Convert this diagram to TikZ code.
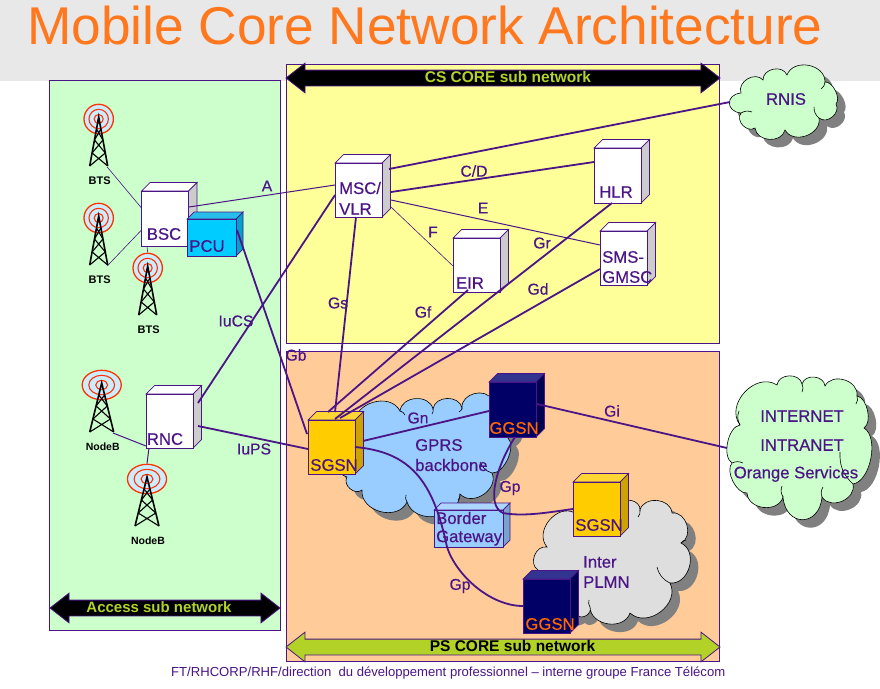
\documentclass[tikz,border=0pt]{standalone}
\usepackage{fontspec}
\setmainfont{Liberation Sans}
\newfontfamily\heavyface[FakeBold=0.4]{Liberation Sans}
\usepackage{xcolor}
\usepackage{tikz}
\usetikzlibrary{shapes.arrows, calc, shadows}
\definecolor{linkpurple}{RGB}{75, 20, 135}
\definecolor{titleorange}{RGB}{255, 120, 30}
\definecolor{bandgray}{RGB}{232, 232, 232}
\definecolor{accessgreen}{RGB}{204, 255, 204}
\definecolor{csyellow}{RGB}{255, 255, 153}
\definecolor{psorange}{RGB}{255, 204, 153}
\definecolor{limegreen}{RGB}{178, 210, 40}
\definecolor{plainfront}{RGB}{255, 255, 255}
\definecolor{plaintop}{RGB}{255, 255, 255}
\definecolor{plainside}{RGB}{204, 204, 204}
\definecolor{pcufront}{RGB}{0, 204, 255}
\definecolor{pcutop}{RGB}{40, 190, 235}
\definecolor{pcuside}{RGB}{0, 163, 204}
\definecolor{sgsnfront}{RGB}{255, 204, 0}
\definecolor{sgsntop}{RGB}{255, 214, 51}
\definecolor{sgsnside}{RGB}{204, 163, 0}
\definecolor{ggsnfront}{RGB}{0, 0, 102}
\definecolor{ggsntop}{RGB}{51, 51, 144}
\definecolor{ggsnside}{RGB}{0, 0, 82}
\definecolor{gatefront}{RGB}{153, 204, 255}
\definecolor{gatetop}{RGB}{173, 214, 255}
\definecolor{gateside}{RGB}{122, 163, 204}
\definecolor{ringred}{RGB}{255, 51, 0}
\definecolor{ringblue}{RGB}{204, 236, 255}
\definecolor{ggsnorange}{RGB}{255, 102, 0}
\tikzset{
  unitlabel/.style={text=linkpurple, font=\fontsize{16.7}{18}\heavyface, inner sep=0pt},
  linklabel/.style={text=linkpurple, font=\fontsize{15.7}{17}\heavyface, inner sep=0pt},
  thinlink/.style={draw=linkpurple, line width=0.6pt},
  midlink/.style={draw=linkpurple, line width=1pt},
  thicklink/.style={draw=linkpurple, line width=1.8pt},
  puff/.style={bend left=80, looseness=1.2},
  smallpuff/.style={bend left=70, looseness=0.8},
  bigpuff/.style={bend left=85, looseness=2},
  cloudshape/.style={draw=black, line width=0.6pt,
    drop shadow={shadow xshift=8pt, shadow yshift=-8pt, fill=black!50, opacity=1}},
  subnetarrow/.style={double arrow, draw=linkpurple, line width=0.8pt,
    double arrow head extend=7pt, double arrow tip angle=76,
    inner xsep=0pt, inner ysep=0pt, text height=11.5pt, text depth=3.5pt,
    font=\fontsize{15.5}{17}\selectfont\bfseries}
}
% box in three parts, front face is the node
\newcommand{\unitbox}[7]{
  \fill[#7top, draw=linkpurple, line width=0.7pt] (#2-#4/2,#3-#5/2) -- ++(#6,-#6) -- ++(#4,0) -- ++(-#6,#6) -- cycle;
  \fill[#7side, draw=linkpurple, line width=0.7pt] (#2+#4/2,#3-#5/2) -- ++(#6,-#6) -- ++(0,#5) -- ++(-#6,#6) -- cycle;
  \node[fill=#7front, draw=linkpurple, line width=0.8pt, minimum width=#4pt, minimum height=#5pt, inner sep=0pt] (#1) at (#2,#3) {};
}
% radio tower, #4 widens it
\newcommand{\radiotower}[6]{
  \begin{scope}[shift={(#2,#3)}, xscale=#4]
    \draw[ringred, line width=1.3pt, fill=ringblue] (0,0) circle (14.7);
    \draw[ringred, line width=1.1pt] (0,0) circle (9.7);
    \draw[ringred, line width=1.1pt] (0,0) circle (4.5);
    \draw[black, line width=1.6pt] (-9,47) -- (0,-2) -- (9,47);
    \foreach \a/\b/\c/\d in {2.2/10/4.2/21, 4.2/21/6.6/34, 6.6/34/9/47}
      \draw[black, line width=1.1pt] (-\a,\b) -- (\c,\d) (\a,\b) -- (-\c,\d);
    \coordinate (#1foot) at (8.5,48);
    \coordinate (#1head) at (0,-15.5);
  \end{scope}
  \node[font=\fontsize{#6}{12}\selectfont\bfseries, inner sep=0pt] (#1) at (#2+1,#3+62) {#5};
}

\begin{document}
\begin{tikzpicture}[x=1pt, y=-1pt]
  \useasboundingbox (0,0) rectangle (880,688);
  \fill[white] (0,0) rectangle (880,688);
  \fill[bandgray] (0,0) rectangle (880,81);
  \node[text=titleorange, font=\fontsize{53.2}{60}\selectfont, inner sep=0pt] (title) at (425,25.5) {Mobile Core Network Architecture};

  % panels
  \draw[linkpurple, line width=0.8pt, fill=accessgreen] (49.5,80) rectangle (280,630);
  \draw[linkpurple, line width=0.8pt, fill=csyellow] (286,64) rectangle (719.5,343.5);
  \draw[linkpurple, line width=0.8pt, fill=psorange] (286,351) rectangle (719.5,661);

  % clouds
  \path[cloudshape, fill=accessgreen] (741,93) to[puff] (763,80) to[puff] (787,75) to[puff] (825,82) to[smallpuff] (836,104)
    to[puff] (819,118) to[puff] (785,130) to[puff] (755,128) to[puff] (741,113) to[bigpuff] cycle;
  \path[cloudshape, fill=accessgreen] (740,425) to[puff] (777,385) to[puff] (802,384) to[puff] (825,386) to[puff] (857,396)
    to[smallpuff] (864,428) to[smallpuff] (853,484) to[puff] (822,497) to[bigpuff] (783,497) to[puff] (747,493) to[smallpuff] (732,463) to[smallpuff] cycle;
  \path[cloudshape, fill=gatefront] (355,425) to[puff] (400,411) to[puff] (433,409) to[puff] (462,408) to[puff] (492,400)
    to[puff] (508,438) to[smallpuff] (492,473) to[puff] (460,494) to[puff] (407,502) to[puff] (362,490) to[puff] (347,477) to[puff] cycle;
  \path[cloudshape, fill=black!13] (547,547) to[puff] (575,513) to[puff] (620,505) to[puff] (640,510) to[puff] (672,513)
    to[puff] (681,543) to[puff] (670,583) to[puff] (630,613) to[puff] (590,607) to[puff] (577,615) to[puff] (538,570) to[puff] cycle;
  \foreach \xa/\ya/\xb/\yb in {741/113/752/112, 819/118/814/107, 825/82/821/89,
      853/484/840/452, 732/463/743/463, 740/425/739/411, 802/384/802/392, 822/497/823/487, 783/497/782/486, 857/396/856/404,
      400/411/405/415, 433/409/432/414, 462/408/459/412, 460/494/458/500, 407/502/406/495, 492/473/480/462,
      640/510/638/517, 681/543/686/540, 670/583/657/567, 590/607/589/600}
    \draw[black, line width=0.6pt] (\xa,\ya) to[bend left=25] (\xb,\yb);
  \coordinate (rnisedge) at (730,102);
  \coordinate (inetedge) at (727,448);

  % towers
  \radiotower{btsa}{98.7}{119}{1}{BTS}{11}
  \radiotower{btsb}{98.7}{218}{1}{BTS}{11}
  \radiotower{btsc}{147.7}{268}{1}{BTS}{11}
  \radiotower{nodea}{101.7}{385}{1.33}{NodeB}{10.5}
  \radiotower{nodeb}{147}{479}{1.33}{NodeB}{10.5}

  % network units
  \unitbox{bsc}{165}{218.5}{47}{55}{8.5}{plain}
  \unitbox{pcu}{211.5}{237.5}{49}{37}{7}{pcu}
  \unitbox{msc}{358.5}{190}{47}{54}{8.5}{plain}
  \unitbox{hlr}{617.5}{175.5}{47}{55}{8.5}{plain}
  \unitbox{eir}{476.5}{265}{47}{54}{8.5}{plain}
  \unitbox{sms}{623.5}{258}{47}{54}{8.5}{plain}
  \unitbox{rnc}{169.5}{421}{47}{54}{8.5}{plain}
  \unitbox{sgsna}{331.5}{447}{47}{54}{8.5}{sgsn}
  \unitbox{ggsna}{512.5}{409.5}{47}{55}{8.5}{ggsn}
  \unitbox{border}{468.5}{528.5}{69}{37}{7}{gate}
  \unitbox{sgsnb}{596.5}{509}{47}{54}{8.5}{sgsn}
  \unitbox{ggsnb}{546.5}{606}{47}{54}{8.5}{ggsn}

  % links
  \draw[thinlink] (btsafoot) -- ($(bsc)+(-23.5,-10.5)$);
  \draw[thinlink] (btsbfoot) -- ($(bsc)+(-23.5,11.5)$);
  \draw[thinlink] (btschead) -- ($(bsc)+(-18,27.5)$);
  \draw[midlink] ($(bsc)+(24,-11.5)$) -- ($(msc)+(-23.5,-5)$);
  \draw[thicklink] ($(msc)+(30.5,-21)$) -- (rnisedge);
  \draw[thicklink] ($(msc)+(32.5,2)$) -- ($(hlr)+(-23.5,-13.5)$);
  \draw[midlink] ($(msc)+(32.5,10)$) -- ($(sms)+(-23.5,-13)$);
  \draw[thinlink] ($(msc)+(32.5,17)$) -- ($(eir)+(-23.5,1)$);
  \draw[thicklink] ($(msc)+(-2.5,27)$) -- ($(sgsna)+(3.5,-35)$);
  \draw[thicklink] ($(eir)+(-8.5,25)$) -- ($(sgsna)+(-3.5,-35)$);
  \draw[thicklink] ($(hlr)+(-5.5,27.5)$) -- ($(sgsna)+(3.5,-28)$);
  \draw[thicklink] ($(sms)+(-23.5,11)$) -- ($(sgsna)+(8.5,-29)$);
  \draw[thicklink] ($(msc)+(-23.5,5)$) -- ($(rnc)+(28.5,-18)$);
  \draw[thicklink] ($(pcu)+(25.5,-7.5)$) -- ($(sgsna)+(-24.5,-13)$);
  \draw[thicklink] ($(rnc)+(28.5,5)$) -- ($(sgsna)+(-23.5,2)$);
  \draw[midlink] (nodeafoot) -- ($(rnc)+(-23.5,25)$);
  \draw[midlink] (nodebhead) -- ($(rnc)+(-20.5,27)$);
  \draw[thicklink] ($(sgsna)+(31.5,-6)$) -- ($(ggsna)+(-23.5,1.5)$);
  \draw[thicklink] ($(ggsna)+(24.5,-5.5)$) -- (inetedge);
  \draw[thicklink] ($(sgsna)+(23.5,0)$) .. controls (410,452) and (433,480) .. (447,547)
    .. controls (456,575) and (490,606) .. ($(ggsnb)+(-23.5,0)$);
  \draw[thicklink] ($(ggsna)+(2.5,27.5)$) .. controls (497,465) and (485,505) .. (503,513)
    .. controls (525,517) and (550,512) .. ($(sgsnb)+(-23.5,0)$);

  % sub network arrows
  \node[subnetarrow, fill=black, text=limegreen, minimum height=434pt] (csarrow) at (503,78) {\hspace*{10pt}CS CORE sub network};
  \node[subnetarrow, fill=black, text=limegreen, minimum height=230pt, font=\fontsize{15}{17}\selectfont\bfseries] (accessarrow) at (165,608) {Access sub network\hspace*{12pt}};
  \node[subnetarrow, fill=limegreen, text=black, minimum height=434pt] (psarrow) at (503,647) {\hspace*{19pt}PS CORE sub network};

  % unit names
  \node[unitlabel] (bsctxt) at (164,234) {BSC};
  \node[unitlabel] (pcutxt) at (207,246) {PCU};
  \node[unitlabel, anchor=west] (msctxt) at (339,188) {MSC/};
  \node[unitlabel, anchor=west] (vlrtxt) at (339,209) {VLR};
  \node[unitlabel] (hlrtxt) at (616,192) {HLR};
  \node[unitlabel] (eirtxt) at (470,283) {EIR};
  \node[unitlabel, anchor=west] (smstxt) at (602,257) {SMS-};
  \node[unitlabel, anchor=west] (gmsctxt) at (602,277) {GMSC};
  \node[unitlabel] (rnctxt) at (165,439) {RNC};
  \node[unitlabel] (sgsnatxt) at (334,465) {SGSN};
  \node[unitlabel, text=ggsnorange] (ggsnatxt) at (514,428) {GGSN};
  \node[unitlabel, anchor=west] (bordertxt) at (436,518) {Border};
  \node[unitlabel, anchor=west] (gatewaytxt) at (436,538) {Gateway};
  \node[unitlabel] (sgsnbtxt) at (599,525) {SGSN};
  \node[unitlabel, text=ggsnorange] (ggsnbtxt) at (550,624) {GGSN};

  % cloud names
  \node[unitlabel] (rnistxt) at (786,99) {RNIS};
  \node[unitlabel] (inettxt) at (802,416) {INTERNET};
  \node[unitlabel] (intratxt) at (802,445) {INTRANET};
  \node[unitlabel] (orangetxt) at (796,474) {Orange Services};
  \node[unitlabel, anchor=west] (gprstxt) at (415,445) {GPRS};
  \node[unitlabel, anchor=west] (backbonetxt) at (415,465) {backbone};
  \node[unitlabel, anchor=west] (intertxt) at (583,562) {Inter};
  \node[unitlabel, anchor=west] (plmntxt) at (583,582) {PLMN};

  % link names
  \node[linklabel] (lbla) at (267,186) {A};
  \node[linklabel] (lblcd) at (474,171) {C/D};
  \node[linklabel] (lble) at (483,208) {E};
  \node[linklabel] (lblf) at (433,232) {F};
  \node[linklabel] (lblgs) at (338,303) {Gs};
  \node[linklabel] (lblgf) at (423,312) {Gf};
  \node[linklabel] (lblgr) at (542,243) {Gr};
  \node[linklabel] (lblgd) at (538,289) {Gd};
  \node[linklabel] (lbliucs) at (236,321) {IuCS};
  \node[linklabel] (lblgb) at (296,355) {Gb};
  \node[linklabel] (lbliups) at (254,449) {IuPS};
  \node[linklabel] (lblgn) at (418,418) {Gn};
  \node[linklabel] (lblgi) at (612,411) {Gi};
  \node[linklabel] (lblgpa) at (510,488) {Gp};
  \node[linklabel] (lblgpb) at (460,586) {Gp};

  \node[anchor=west, text=linkpurple, font=\fontsize{13.1}{15}\selectfont, inner sep=0pt] (footer) at (171,673) {FT/RHCORP/RHF/direction\ \ du développement professionnel – interne groupe France Télécom};
\end{tikzpicture}
\end{document}
